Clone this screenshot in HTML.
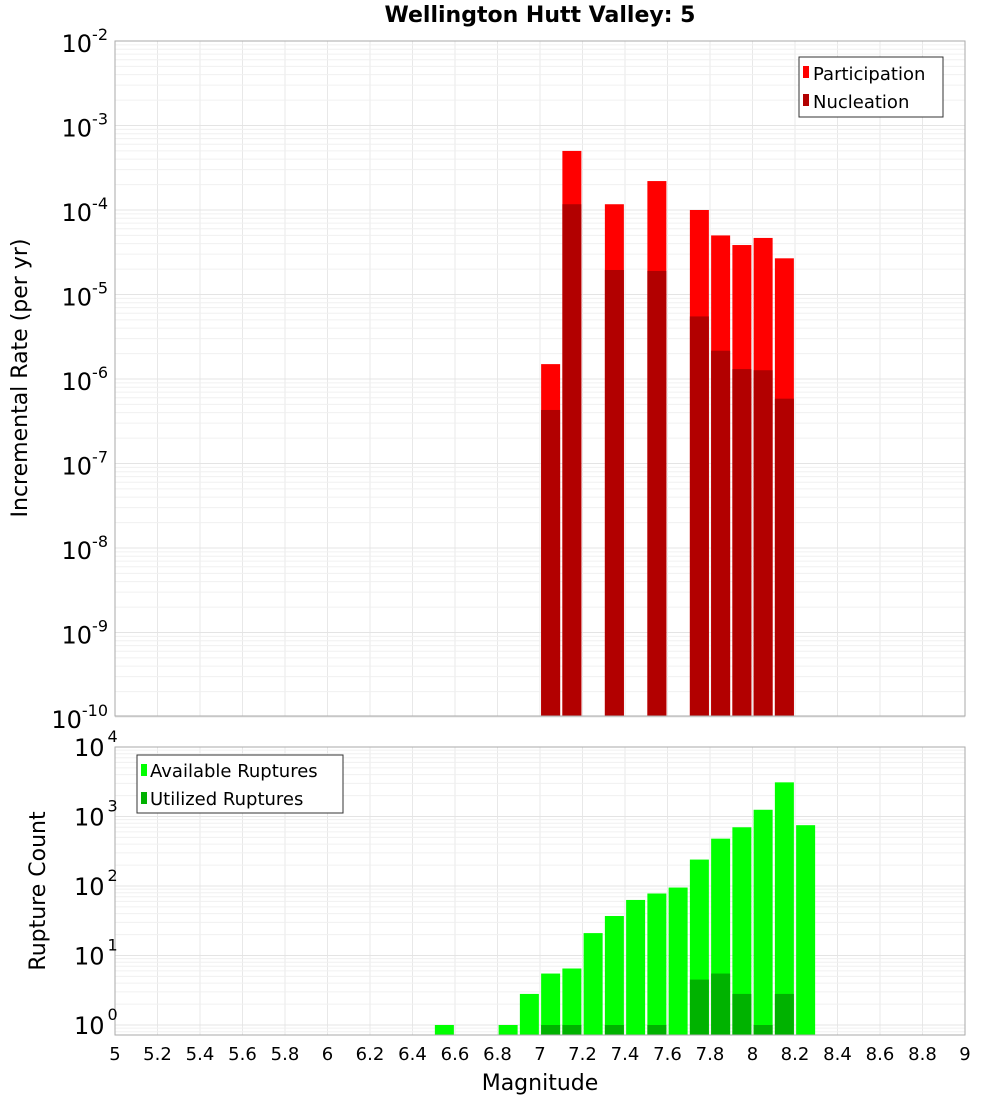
<!DOCTYPE html>
<html><head><meta charset="utf-8"><style>
html,body{margin:0;padding:0;background:#fff;}
svg{display:block;font-family:"Liberation Sans","DejaVu Sans",sans-serif;}
</style></head><body>
<svg id="chart" width="1000" height="1100" xmlns="http://www.w3.org/2000/svg">
<text x="540" y="22" text-anchor="middle" font-size="22" font-weight="bold" font-family="DejaVu Sans, sans-serif">Wellington Hutt Valley: 5</text>
<g id="grid"></g>
<g id="bars"></g>
<rect x="115" y="41" width="850" height="675" fill="none" stroke="#aaa"/>
<rect x="115" y="747" width="850" height="288" fill="none" stroke="#aaa"/>
<g id="axes" font-family="DejaVu Sans, sans-serif"></g>
<text transform="translate(27,378) rotate(-90)" text-anchor="middle" font-size="22" font-family="DejaVu Sans, sans-serif">Incremental Rate (per yr)</text>
<text transform="translate(45,891) rotate(-90)" text-anchor="middle" font-size="22" font-family="DejaVu Sans, sans-serif">Rupture Count</text>
<text x="540" y="1090" text-anchor="middle" font-size="22" font-family="DejaVu Sans, sans-serif">Magnitude</text>
<g font-family="DejaVu Sans, sans-serif" font-size="18">
<rect x="799" y="57" width="144" height="60" fill="#fff" stroke="#333"/>
<rect x="803" y="66" width="6" height="12" fill="#ff0000"/>
<text x="813" y="80">Participation</text>
<rect x="803" y="94" width="6" height="12" fill="#b20000"/>
<text x="813" y="108">Nucleation</text>
</g>
<g font-family="DejaVu Sans, sans-serif" font-size="18">
<rect x="137" y="755" width="206" height="58" fill="#fff" stroke="#333"/>
<rect x="141" y="764" width="6" height="12" fill="#00ff00"/>
<text x="150" y="777">Available Ruptures</text>
<rect x="141" y="792" width="6" height="12" fill="#00b200"/>
<text x="150" y="805">Utilized Ruptures</text>
</g>
</svg>
<script>
const mags=[7.05,7.15,7.35,7.55,7.75,7.85,7.95,8.05,8.15];
const participation=[1.5e-6,5.0e-4,1.17e-4,2.2e-4,1.0e-4,5.0e-5,3.85e-5,4.67e-5,2.68e-5];
const nucleation=[4.3e-7,1.17e-4,1.95e-5,1.9e-5,5.5e-6,2.16e-6,1.31e-6,1.27e-6,5.85e-7];
const countMags=[6.55,6.85,6.95,7.05,7.15,7.25,7.35,7.45,7.55,7.65,7.75,7.85,7.95,8.05,8.15,8.25];
const available=[1,1,2.8,5.5,6.5,21,37,63,78,95,240,480,700,1250,3100,750];
const utilMags=[7.05,7.15,7.35,7.55,7.75,7.85,7.95,8.05,8.15];
const utilized=[1,1,1,1,4.5,5.5,2.8,1,2.8];
const xTicks=["5","5.2","5.4","5.6","5.8","6","6.2","6.4","6.6","6.8","7","7.2","7.4","7.6","7.8","8","8.2","8.4","8.6","8.8","9"];
const topExps=[-2,-3,-4,-5,-6,-7,-8,-9,-10];
const botExps=[4,3,2,1,0];

const NS="http://www.w3.org/2000/svg";
const X=m=>115+(m-5)*212.5;
const YT=v=>41+(-2-Math.log10(v))*84.5;
const YB=v=>747+(4-Math.log10(v))*69.5;
const BOTB=1035, TOPB=716;
function mk(tag,attrs,parent){const e=document.createElementNS(NS,tag);for(const k in attrs)e.setAttribute(k,attrs[k]);parent.appendChild(e);return e;}
const grid=document.getElementById('grid'),bars=document.getElementById('bars'),axes=document.getElementById('axes');
// vertical grid
xTicks.forEach(t=>{const x=X(parseFloat(t));
 [[41,716],[747,1035]].forEach(r=>{const l=mk('line',{x1:x,x2:x,y1:r[0],y2:r[1],stroke:'#e8e8e8'},grid);
 
 });
 const tx=mk('text',{x:x,y:1060,'text-anchor':'middle','font-size':18},axes);tx.textContent=t;
 
 
});
// horizontal grid top
for(let e=-10;e<-2;e++)for(let k=1;k<10;k++){const y=YT(k*Math.pow(10,e));
 const l=mk('line',{x1:115,x2:965,y1:y,y2:y,stroke:k==1?'#e4e4e4':'#f0f0f0'},grid);
 
 }
for(let e=-1;e<4;e++)for(let k=1;k<10;k++){const y=YB(k*Math.pow(10,e));if(y>BOTB||y<747)continue;
 const l=mk('line',{x1:115,x2:965,y1:y,y2:y,stroke:k==1?'#e4e4e4':'#f0f0f0'},grid);
 
 }
// tick labels
topExps.forEach(e=>{const y=YT(Math.pow(10,e));const t=mk('text',{x:108,y:y+11,'text-anchor':'end','font-size':24},axes);
 t.innerHTML='10<tspan dy="-12" font-size="16">'+e+'</tspan>';
 
 });
botExps.forEach(e=>{const y=YB(Math.pow(10,e));const t=mk('text',{x:74,y:y+9,'font-size':24},axes);
 t.innerHTML='10<tspan dy="-14" dx="3" font-size="16">'+e+'</tspan>';
 
 });
// bars
const W=19;
mags.forEach((m,i)=>{const x=X(m)-W/2;
 let y=YT(participation[i]);const b=mk('rect',{x:x,y:y,width:W,height:TOPB-y,fill:'#ff0000'},bars);
 
 
 y=YT(nucleation[i]);const n=mk('rect',{x:x,y:y,width:W,height:TOPB-y,fill:'#b20000'},bars);
 
 });
countMags.forEach((m,i)=>{const x=X(m)-W/2;const y=YB(available[i]);
 const b=mk('rect',{x:x,y:y,width:W,height:BOTB-y,fill:'#00ff00'},bars);
 
 });
utilMags.forEach((m,i)=>{const x=X(m)-W/2;const y=YB(utilized[i]);
 const b=mk('rect',{x:x,y:y,width:W,height:BOTB-y,fill:'#00b200'},bars);
 
 });
</script>
</body></html>
